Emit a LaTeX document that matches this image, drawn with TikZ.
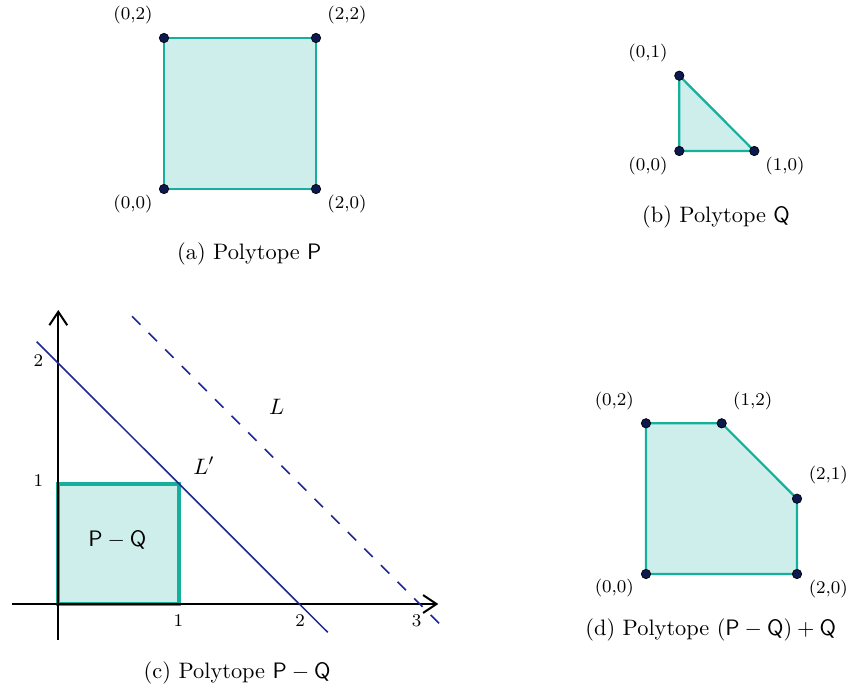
\documentclass[tikz,border=0pt]{standalone}
\usetikzlibrary{arrows.meta}
\definecolor{tealE}{RGB}{20,176,156}
\definecolor{tealF}{RGB}{205,238,234}
\definecolor{navyD}{RGB}{12,24,80}
\definecolor{lineB}{RGB}{28,40,145}
\begin{document}
\begin{tikzpicture}[x=0.4474pt,y=-0.4474pt,
  poly/.style={draw=tealE,fill=tealF,line width=1pt,line join=round},
  vdot/.style={circle,fill=navyD,draw=black,line width=0.3pt,inner sep=0pt,minimum size=4.2pt},
  vlab/.style={font=\footnotesize,inner sep=0pt},
  captxt/.style={font=\normalsize,inner sep=0pt,anchor=base west},
  axisline/.style={line width=0.9pt,-{Straight Barb[length=6pt,width=8pt]}},
  lline/.style={draw=lineB,line width=0.7pt},
  ldash/.style={draw=lineB,line width=0.75pt,dash pattern=on 5.3pt off 5.2pt},
  sqbox/.style={draw=tealE,fill=tealF,line width=1.8pt},
  txt/.style={inner sep=0pt}]
\useasboundingbox (0,0) rectangle (860,691);

% ---------- (a) ----------
\coordinate (a1) at (164,189);
\coordinate (a2) at (316,189);
\coordinate (a3) at (316,38);
\coordinate (a4) at (164,38);
\draw[poly] (a1)--(a2)--(a3)--(a4)--cycle;
\foreach \p in {a1,a2,a3,a4} \node[vdot] at (\p) {};
\node[vlab] (la1) at (133,204) {(0,0)};
\node[vlab] (la2) at (347,204) {(2,0)};
\node[vlab] (la3) at (347,15) {(2,2)};
\node[vlab] (la4) at (133,15) {(0,2)};
\node[captxt] (capa) at (176.7,259.3) {(a) Polytope $\mathsf{P}$};

% ---------- (b) ----------
\coordinate (b1) at (679.3,151);
\coordinate (b2) at (754.3,151);
\coordinate (b3) at (679.3,75.7);
\draw[poly] (b1)--(b2)--(b3)--cycle;
\foreach \p in {b1,b2,b3} \node[vdot] at (\p) {};
\node[vlab] (lb1) at (648,166) {(0,0)};
\node[vlab] (lb2) at (785,166) {(1,0)};
\node[vlab] (lb3) at (648,53) {(0,1)};
\node[captxt] (capb) at (641.7,222.3) {(b) Polytope $\mathsf{Q}$};

% ---------- (c) ----------
\coordinate (o) at (58.3,604);
\coordinate (xs) at (11.7,604);
\coordinate (xe) at (438.3,604);
\coordinate (ys) at (58.3,640);
\coordinate (ye) at (58.3,310);
\coordinate (s1) at (179,604);
\coordinate (s2) at (179,484);
\coordinate (s3) at (58.3,484);
\coordinate (l1) at (36.7,341.7);
\coordinate (l2) at (327.7,632.3);
\coordinate (m1) at (132,316.3);
\coordinate (m2) at (445,629.3);
\draw[sqbox] (o)--(s1)--(s2)--(s3)--cycle;
\draw[axisline] (xs)--(xe);
\draw[axisline] (ys)--(ye);
\draw[lline] (l1)--(l2);
\draw[ldash] (m1)--(m2);
\node[txt] (pq) at (117.3,540) {$\mathsf{P}-\mathsf{Q}$};
\node[txt] (lL) at (276.7,406.7) {$L$};
\node[txt] (lLp) at (204,465.7) {$L'$};
\node[vlab] (ty2) at (38.3,361) {2};
\node[vlab] (ty1) at (38.3,481) {1};
\node[vlab] (tx1) at (178.3,620.7) {1};
\node[vlab] (tx2) at (300,620.7) {2};
\node[vlab] (tx3) at (416.7,620.7) {3};
\node[captxt] (capc) at (143.3,678.6) {(c) Polytope $\mathsf{P}-\mathsf{Q}$};

% ---------- (d) ----------
\coordinate (d1) at (646,574);
\coordinate (d2) at (797,574);
\coordinate (d3) at (797,498.7);
\coordinate (d4) at (721.7,423.3);
\coordinate (d5) at (646,423.3);
\draw[poly] (d1)--(d2)--(d3)--(d4)--(d5)--cycle;
\foreach \p in {d1,d2,d3,d4,d5} \node[vdot] at (\p) {};
\node[vlab] (ld1) at (614.3,588.3) {(0,0)};
\node[vlab] (ld2) at (828.3,589.3) {(2,0)};
\node[vlab] (ld3) at (828.3,475) {(2,1)};
\node[vlab] (ld4) at (752.7,400.7) {(1,2)};
\node[vlab] (ld5) at (614.3,400.7) {(0,2)};
\node[captxt] (capd) at (585,635) {(d) Polytope $(\mathsf{P}-\mathsf{Q})+\mathsf{Q}$};
\end{tikzpicture}
\end{document}
